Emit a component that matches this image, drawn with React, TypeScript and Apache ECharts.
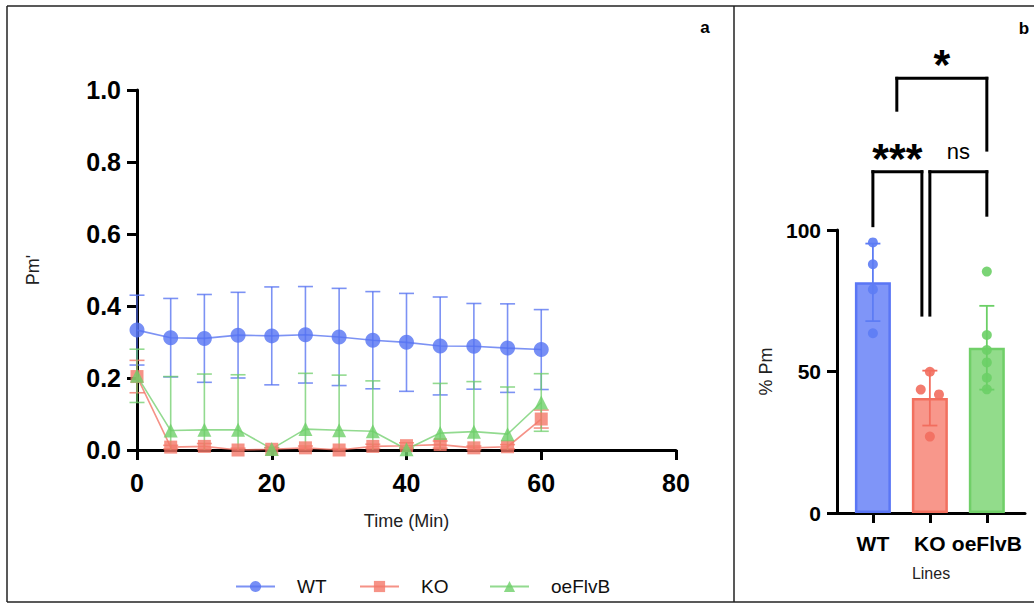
import React, { useEffect, useRef } from "react";
import * as echarts from "echarts";

// ---------- Panel a data ----------
const timeMin = [0, 5, 10, 15, 20, 25, 30, 35, 40, 45, 50, 55, 60];
const wtMean = [0.333, 0.312, 0.31, 0.319, 0.317, 0.32, 0.314, 0.305, 0.299, 0.289, 0.288, 0.283, 0.279];
const wtSD = [0.097, 0.109, 0.122, 0.119, 0.136, 0.134, 0.135, 0.135, 0.136, 0.136, 0.119, 0.123, 0.111];
const koMean = [0.204, 0.008, 0.01, 0.0, 0.002, 0.006, 0.0, 0.01, 0.012, 0.015, 0.006, 0.009, 0.086];
const koSD = [0.045, 0.005, 0.008, 0.005, 0.004, 0.005, 0.004, 0.006, 0.008, 0.01, 0.005, 0.006, 0.025];
const oeMean = [0.206, 0.054, 0.056, 0.056, 0.003, 0.058, 0.055, 0.052, 0.002, 0.047, 0.051, 0.044, 0.132];
const oeSD = [0.074, 0.15, 0.155, 0.153, 0.004, 0.155, 0.153, 0.14, 0.004, 0.138, 0.139, 0.131, 0.08];

// ---------- Panel b data ----------
const lines = ["WT", "KO", "oeFlvB"];
const pctMean = [81.5, 40.6, 58.4];
const pctSD = [13.7, 9.7, 14.8];
const wtDots = [95.6, 87.9, 79.0, 63.5];
const koDots = [49.9, 43.6, 41.9, 27.0];
const oeDots = [85.3, 62.9, 57.6, 53.2, 47.8, 43.7];
const koJitter = [0, -0.16, 0.16, 0];
const brackets = [
  { from: 0, to: 0.86, level: 120.6, fromEnd: 101, toEnd: 69.4, label: "***" },
  { from: 1, to: 2, level: 120.6, fromEnd: 69.4, toEnd: 104.7, label: "ns" },
  { from: 0.42, to: 2, level: 153.6, fromEnd: 141.8, toEnd: 127.7, label: "*" },
];

const FONT = "Liberation Sans, Arial, Helvetica, sans-serif";

const lineCol = ["rgba(80,110,240,0.75)", "rgba(242,110,95,0.75)", "rgba(110,205,105,0.75)"];
const markCol = ["rgba(85,115,242,0.8)", "rgba(244,120,105,0.8)", "rgba(110,208,105,0.8)"];
const barFill = ["#7f95f8", "#f8978b", "#92dc8b"];
const barBorder = ["#5a76f5", "#f2705f", "#70cf68"];
const dotCol = ["#5d7cf4", "#f26d5e", "#6bcf66"];

function errRender(color: string, cap: number, width: number, floor: number | null) {
  return (params: any, api: any) => {
    const x = api.value(0);
    const m = api.value(1);
    const sd = api.value(2);
    let lo = m - sd;
    let clipped = false;
    if (floor !== null && lo < floor) {
      lo = floor;
      clipped = true;
    }
    const top = api.coord([x, m + sd]);
    const bot = api.coord([x, lo]);
    const st = { stroke: color, lineWidth: width };
    const children: any[] = [
      { type: "line", shape: { x1: top[0], y1: top[1], x2: bot[0], y2: bot[1] }, style: st },
      { type: "line", shape: { x1: top[0] - cap / 2, y1: top[1], x2: top[0] + cap / 2, y2: top[1] }, style: st },
    ];
    if (!clipped) {
      children.push({ type: "line", shape: { x1: bot[0] - cap / 2, y1: bot[1], x2: bot[0] + cap / 2, y2: bot[1] }, style: st });
    }
    return { type: "group", children };
  };
}

export default function App() {
  const ref = useRef<HTMLDivElement>(null);
  useEffect(() => {
    document.body.style.margin = "0";
    if (!ref.current) return;
    const chart = echarts.init(ref.current, null, { renderer: "svg" });
    const means = [wtMean, koMean, oeMean];
    const sds = [wtSD, koSD, oeSD];
    const symbols = ["circle", "rect", "triangle"];
    const symSizes = [15, 13, 14];
    const legendLeft = [230, 354, 484];

    const axisBlack = { onZero: false, lineStyle: { color: "#000", width: 3 } };

    const series: any[] = [];
    // panel a error bars
    lines.forEach((_, k) => {
      series.push({
        type: "custom",
        xAxisIndex: 0,
        yAxisIndex: 0,
        z: 1,
        silent: true,
        renderItem: errRender(lineCol[k], 15, 1.6, 0),
        encode: { x: 0, y: 1 },
        data: timeMin.map((t, i) => [t, means[k][i], sds[k][i]]),
      });
    });
    // panel a lines
    lines.forEach((name, k) => {
      series.push({
        type: "line",
        name,
        xAxisIndex: 0,
        yAxisIndex: 0,
        z: 3,
        clip: false,
        symbol: symbols[k],
        symbolSize: symSizes[k],
        itemStyle: { color: markCol[k] },
        lineStyle: { color: lineCol[k], width: 1.6 },
        data: timeMin.map((t, i) => [t, means[k][i]]),
      });
    });
    // panel b bars
    series.push({
      type: "bar",
      xAxisIndex: 1,
      yAxisIndex: 1,
      barWidth: 36,
      z: 1,
      data: lines.map((_, i) => ({
        value: [i, pctMean[i]],
        itemStyle: { color: barFill[i], borderColor: barBorder[i], borderWidth: 2.5 },
      })),
    });
    // panel b error bars
    lines.forEach((_, k) => {
      series.push({
        type: "custom",
        xAxisIndex: 1,
        yAxisIndex: 1,
        z: 3,
        silent: true,
        renderItem: errRender(dotCol[k], 15, 1.8, null),
        encode: { x: 0, y: 1 },
        data: [[k, pctMean[k], pctSD[k]]],
      });
    });
    // panel b dots
    const dotSets = [
      wtDots.map((v) => [0, v]),
      koDots.map((v, i) => [1 + koJitter[i], v]),
      oeDots.map((v) => [2, v]),
    ];
    dotSets.forEach((d, k) => {
      series.push({
        type: "scatter",
        xAxisIndex: 1,
        yAxisIndex: 1,
        z: 4,
        symbol: "circle",
        symbolSize: 10,
        itemStyle: { color: dotCol[k], opacity: 0.9 },
        data: d,
      });
    });

    const option: any = {
      animation: false,
      backgroundColor: "#fff",
      textStyle: { fontFamily: FONT },
      grid: [
        { left: 137, top: 90, width: 539, height: 360 },
        { left: 837, top: 230, width: 188, height: 283 },
      ],
      legend: lines.map((name, i) => ({
        data: [name],
        left: legendLeft[i],
        top: 572,
        itemWidth: 39,
        itemHeight: 14,
        itemGap: 0,
        selectedMode: false,
        textStyle: { fontSize: 19, fontFamily: FONT, color: "#111", padding: [0, 0, 0, 17] },
      })),
      xAxis: [
        {
          type: "value",
          gridIndex: 0,
          min: 0,
          max: 80,
          interval: 20,
          name: "Time (Min)",
          nameLocation: "middle",
          nameGap: 62,
          nameTextStyle: { fontSize: 18, color: "#222", fontFamily: FONT },
          axisLine: axisBlack,
          axisTick: { show: true, length: 10, lineStyle: { color: "#000", width: 3 } },
          axisLabel: { fontSize: 25, fontWeight: "bold", color: "#000", margin: 20, fontFamily: FONT },
          splitLine: { show: false },
        },
        {
          type: "value",
          gridIndex: 1,
          min: -0.63,
          max: 2.67,
          name: "Lines",
          nameLocation: "middle",
          nameGap: 52,
          nameTextStyle: { fontSize: 16, color: "#222", fontFamily: FONT },
          axisLine: axisBlack,
          axisTick: { show: true, length: 10, customValues: [0, 1, 2], lineStyle: { color: "#000", width: 3 } },
          axisLabel: {
            customValues: [0, 1, 2],
            formatter: (v: number) => lines[Math.round(v)] ?? "",
            fontSize: 21,
            fontWeight: "bold",
            color: "#000",
            margin: 20,
            fontFamily: FONT,
          },
          splitLine: { show: false },
        },
      ],
      yAxis: [
        {
          type: "value",
          gridIndex: 0,
          min: 0,
          max: 1,
          interval: 0.2,
          name: "Pm'",
          nameLocation: "middle",
          nameGap: 95,
          nameRotate: 90,
          nameTextStyle: { fontSize: 18, color: "#222", fontFamily: FONT },
          axisLine: { show: true, ...axisBlack },
          axisTick: { show: true, length: 10, lineStyle: { color: "#000", width: 3 } },
          axisLabel: {
            fontSize: 25,
            fontWeight: "bold",
            color: "#000",
            margin: 16,
            fontFamily: FONT,
            formatter: (v: number) => v.toFixed(1),
          },
          splitLine: { show: false },
        },
        {
          type: "value",
          gridIndex: 1,
          min: 0,
          max: 100,
          interval: 50,
          name: "% Pm",
          nameLocation: "middle",
          nameGap: 62,
          nameRotate: 90,
          nameTextStyle: { fontSize: 18, color: "#222", fontFamily: FONT },
          axisLine: { show: true, ...axisBlack },
          axisTick: { show: true, length: 10, lineStyle: { color: "#000", width: 3 } },
          axisLabel: { fontSize: 21, fontWeight: "bold", color: "#000", margin: 16, fontFamily: FONT },
          splitLine: { show: false },
        },
      ],
      series,
    };
    chart.setOption(option);

    // annotations: borders, panel letters, significance brackets
    const px = (x: number, y: number) => chart.convertToPixel({ gridIndex: 1 } as any, [x, y]) as number[];
    const blk = { stroke: "#000", lineWidth: 3, lineCap: "butt" };
    const frame = { stroke: "#222", lineWidth: 1.5 };
    const g: any[] = [
      { type: "line", shape: { x1: 7, y1: 6, x2: 1034, y2: 6 }, style: frame },
      { type: "line", shape: { x1: 7, y1: 602, x2: 1034, y2: 602 }, style: frame },
      { type: "line", shape: { x1: 7, y1: 6, x2: 7, y2: 602 }, style: frame },
      { type: "line", shape: { x1: 734, y1: 6, x2: 734, y2: 602 }, style: frame },
      { type: "text", x: 705, y: 27, style: { text: "a", font: `bold 17px ${FONT}`, fill: "#000", textAlign: "center", textVerticalAlign: "middle" } },
      { type: "text", x: 1024, y: 28, style: { text: "b", font: `bold 17px ${FONT}`, fill: "#000", textAlign: "center", textVerticalAlign: "middle" } },
    ];
    brackets.forEach((b) => {
      const a0 = px(b.from, b.fromEnd);
      const a1 = px(b.from, b.level);
      const b1 = px(b.to, b.level);
      const b0 = px(b.to, b.toEnd);
      g.push({ type: "line", shape: { x1: a0[0], y1: a0[1], x2: a1[0], y2: a1[1] - 1.5 }, style: blk });
      g.push({ type: "line", shape: { x1: a1[0] - 1.5, y1: a1[1], x2: b1[0] + 1.5, y2: b1[1] }, style: blk });
      g.push({ type: "line", shape: { x1: b1[0], y1: b1[1] - 1.5, x2: b0[0], y2: b0[1] }, style: blk });
      const isStar = b.label.indexOf("*") >= 0;
      g.push({
        type: "text",
        x: (a1[0] + b1[0]) / 2,
        y: a1[1] - (isStar ? 14 : 20),
        style: {
          text: b.label,
          font: isStar ? `bold 43px ${FONT}` : `22px ${FONT}`,
          fill: "#000",
          textAlign: "center",
          textVerticalAlign: "middle",
        },
      });
    });
    chart.setOption({ graphic: g });

    return () => chart.dispose();
  }, []);

  return <div ref={ref} style={{ position: "fixed", left: 0, top: 0, width: 1034, height: 605 }} />;
}
